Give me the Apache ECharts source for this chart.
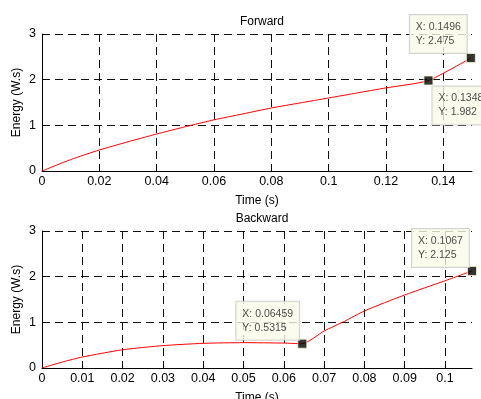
<!DOCTYPE html>
<html>
<head>
<meta charset="utf-8">
<script src="https://cdn.jsdelivr.net/npm/echarts@6/dist/echarts.min.js"></script>
<style>
  html, body { margin: 0; padding: 0; background: #fff; }
  #chart { width: 481px; height: 399px; }
</style>
</head>
<body>
<div id="chart"></div>
<script>
// Forward energy curve (time s, energy W.s)
const fwdTime = [0, 0.01, 0.02, 0.03, 0.04, 0.05, 0.06, 0.07, 0.08, 0.09, 0.1, 0.11, 0.12, 0.1348, 0.1496]
const fwdEnergy = [0, 0.25, 0.46, 0.64, 0.81, 0.97, 1.12, 1.25, 1.38, 1.49, 1.6, 1.71, 1.82, 1.982, 2.475]
// Backward energy curve
const bwdTime = [0, 0.005, 0.01, 0.02, 0.03, 0.04, 0.05, 0.06, 0.06459, 0.07, 0.075, 0.08, 0.09, 0.1, 0.1067]
const bwdEnergy = [0, 0.13, 0.24, 0.4, 0.49, 0.54, 0.555, 0.545, 0.5315, 0.81, 1.02, 1.25, 1.6, 1.91, 2.125]
// Data tips
const fwdTipX = [0.1496, 0.1348]
const fwdTipY = [2.475, 1.982]
const bwdTipX = [0.06459, 0.1067]
const bwdTipY = [0.5315, 2.125]

const FONT = 'Liberation Sans, Arial, sans-serif'
const zip = (xs, ys) => xs.map((x, i) => [x, ys[i]])
const GRID_LINE = { color: '#111', type: [8, 5], width: 1 }

function xAxis(gridIndex, max, interval) {
  return {
    type: 'value', gridIndex, min: 0, max, interval,
    name: 'Time (s)', nameLocation: 'middle', nameGap: 24,
    nameTextStyle: { color: '#000', fontSize: 12, fontFamily: FONT },
    axisLine: { onZero: false, lineStyle: { color: '#000', width: 1 } },
    axisTick: { inside: true, length: 4, lineStyle: { color: '#000' } },
    axisLabel: { color: '#000', fontSize: 12.5, fontFamily: FONT, margin: 4, showMaxLabel: false },
    splitLine: { show: true, showMinLine: false, showMaxLine: false, lineStyle: GRID_LINE },
  }
}

function yAxis(gridIndex) {
  return {
    type: 'value', gridIndex, min: 0, max: 3, interval: 1,
    name: 'Energy (W.s)', nameLocation: 'middle', nameGap: 19, nameMoveOverlap: false,
    nameTextStyle: { color: '#000', fontSize: 12, fontFamily: FONT },
    axisLine: { show: true, lineStyle: { color: '#000', width: 1 } },
    axisTick: { show: true, inside: true, length: 4, lineStyle: { color: '#000' } },
    axisLabel: { color: '#000', fontSize: 12.5, fontFamily: FONT, margin: 6 },
    splitLine: { show: true, showMinLine: false, lineStyle: GRID_LINE },
  }
}

// datatip box, placed by offset from the marker
const tipLabel = (offset, position) => ({
  show: true,
  position, distance: 1, offset,
  formatter: (p) => 'X: ' + p.value[0] + '\nY: ' + p.value[1],
  color: '#1a1a1a', fontSize: 10.5, fontFamily: FONT, lineHeight: 14,
  backgroundColor: '#FAFAEA', borderColor: '#C8C8C8', borderWidth: 1,
  padding: [5, 6, 5, 6], align: 'left',
})

function tipSeries(xi, xs, ys, labels) {
  return {
    type: 'scatter', xAxisIndex: xi, yAxisIndex: xi,
    symbol: 'rect', symbolSize: 9, z: 5,
    itemStyle: { color: '#000', borderColor: '#F4F4D0', borderWidth: 1 },
    data: xs.map((x, i) => ({ value: [x, ys[i]], label: labels[i] })),
  }
}

const chart = echarts.init(document.getElementById('chart'))
chart.setOption({
  animation: false,
  backgroundColor: '#fff',
  title: [
    { text: 'Forward', left: 257, top: 11, textAlign: 'center', textStyle: { fontSize: 12, fontWeight: 'normal', color: '#000', fontFamily: FONT } },
    { text: 'Backward', left: 257, top: 208, textAlign: 'center', textStyle: { fontSize: 12, fontWeight: 'normal', color: '#000', fontFamily: FONT } },
  ],
  grid: [
    { left: 42, right: 9, top: 34, height: 137, outerBoundsMode: 'none' },
    { left: 42, right: 9, top: 231, height: 137, outerBoundsMode: 'none' },
  ],
  xAxis: [xAxis(0, 0.15, 0.02), xAxis(1, 0.1067, 0.01)],
  yAxis: [yAxis(0), yAxis(1)],
  series: [
    {
      type: 'line', xAxisIndex: 0, yAxisIndex: 0, data: zip(fwdTime, fwdEnergy),
      symbol: 'none', smooth: 0.2, lineStyle: { color: '#ff0000', width: 1 },
    },
    {
      type: 'line', xAxisIndex: 1, yAxisIndex: 1, data: zip(bwdTime, bwdEnergy),
      symbol: 'none', smooth: 0.2, lineStyle: { color: '#ff0000', width: 1 },
    },
    tipSeries(0, fwdTipX, fwdTipY, [
      tipLabel([-61, 1], 'top'),
      tipLabel([4, 0], 'bottom'),
    ]),
    tipSeries(1, bwdTipX, bwdTipY, [
      tipLabel([-66, 2], 'top'),
      tipLabel([-60, 2], 'top'),
    ]),
  ],
})
</script>
</body>
</html>
